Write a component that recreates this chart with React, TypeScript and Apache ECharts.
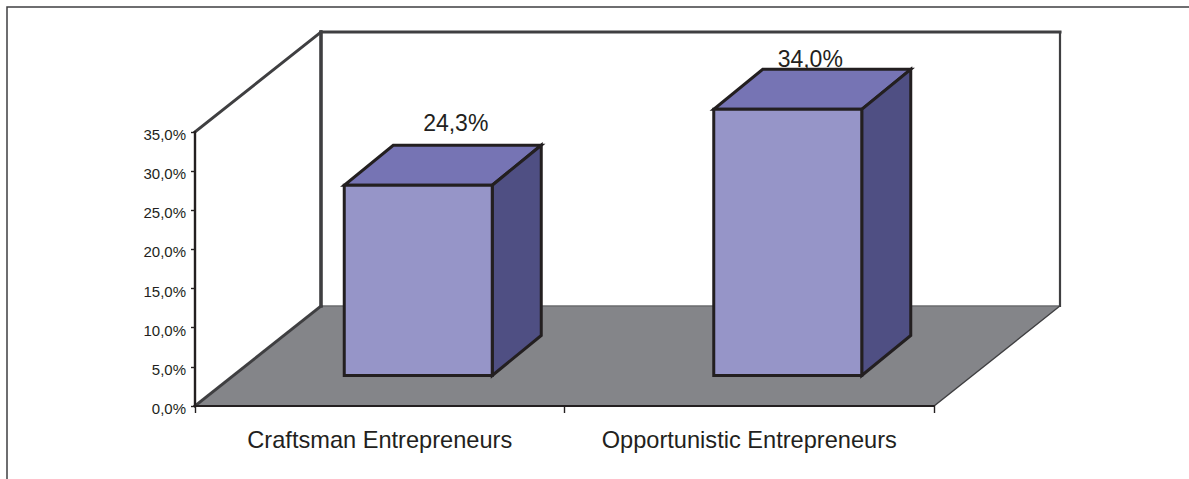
import React, { useEffect, useRef } from "react";
import * as echarts from "echarts";

const categories = ["Craftsman Entrepreneurs", "Opportunistic Entrepreneurs"];
const values = [24.3, 34.0];
const yTicks = { min: 0, max: 35, interval: 5 };

const fmt = (v: number) => v.toFixed(1).replace(".", ",") + "%";

const W = 1189;
const H = 479;
const DEPTH_X = 126;
const DEPTH_Y = 100;
const FLOOR_SHIFT_X = 38.5;
const FLOOR_SHIFT_Y = 30.5;
const BAR_W = 148;
const BAR_DX = 49;
const BAR_DY = 40;
const LABEL_OFFSET = [
  { x: 76, y: -22.5 },
  { x: 61, y: -10.5 },
];
const INK = "#231f20";
const WALL = "#3f3f41";

function poly(points: number[][], fill: string, stroke: string, lineWidth: number) {
  return {
    type: "polygon",
    shape: { points },
    style: { fill, stroke, lineWidth, lineJoin: "miter" },
  };
}
function line(a: number[], b: number[], stroke: string, lineWidth: number) {
  return {
    type: "line",
    shape: { x1: a[0], y1: a[1], x2: b[0], y2: b[1] },
    style: { stroke, lineWidth, lineCap: "square" },
  };
}

export default function App() {
  const ref = useRef<HTMLDivElement>(null);
  useEffect(() => {
    const chart = echarts.init(ref.current!, undefined, { renderer: "svg" });
    chart.setOption({
      animation: false,
      backgroundColor: "#ffffff",
      grid: { left: 195, top: 132, width: 739, height: 274, containLabel: false },
      graphic: [
        {
          type: "polyline",
          shape: { points: [[7, H], [7, 7], [W, 7]] },
          style: { fill: "none", stroke: WALL, lineWidth: 1.5 },
          z: 0,
        },
      ],
      xAxis: {
        type: "category",
        data: categories,
        z: 6,
        axisLine: { show: true, lineStyle: { color: INK, width: 2.2 } },
        axisTick: { show: true, alignWithLabel: false, length: 7, lineStyle: { color: INK, width: 1.4 } },
        axisLabel: {
          interval: 0,
          margin: 22,
          fontFamily: "Liberation Sans",
          fontSize: 23.6,
          color: INK,
        },
        splitLine: { show: false },
      },
      yAxis: {
        type: "value",
        ...yTicks,
        z: 6,
        axisLine: { show: true, lineStyle: { color: INK, width: 2.4 } },
        axisTick: { show: true, length: 4, lineStyle: { color: INK, width: 1.4 } },
        axisLabel: {
          margin: 9,
          fontFamily: "Liberation Sans",
          fontSize: 15,
          color: INK,
          verticalAlign: "top",
          lineHeight: 5,
          formatter: (v: number) => fmt(v),
        },
        splitLine: { show: false },
      },
      series: [
        {
          type: "custom",
          name: "scene",
          silent: true,
          z: 1,
          data: [[0]],
          renderItem: (p: any) => {
            const cs = p.coordSys;
            const x0 = cs.x;
            const x1 = cs.x + cs.width;
            const yb = cs.y + cs.height;
            const yt = cs.y;
            const bl = [x0 + DEPTH_X, yb - DEPTH_Y];
            const br = [x1 + DEPTH_X, yb - DEPTH_Y];
            const tl = [x0 + DEPTH_X, yt - DEPTH_Y];
            const tr = [x1 + DEPTH_X, yt - DEPTH_Y];
            return {
              type: "group",
              children: [
                poly([[x0, yb], [x1, yb], br, bl], "#848589", "none", 0),
                line(bl, br, "#6a6b6e", 1.5),
                line([x1, yb], br, WALL, 1.3),
                line([x0, yb], bl, WALL, 3),
                line([x0, yt], tl, WALL, 3),
                line(tl, tr, WALL, 3),
                line(tl, bl, WALL, 3.6),
                line(tr, br, WALL, 2.2),
              ],
            };
          },
        },
        {
          type: "custom",
          name: "share",
          z: 3,
          encode: { x: 0, y: 1 },
          data: values.map((v, i) => [i, v]),
          renderItem: (p: any, api: any) => {
            const i = api.value(0);
            const top = api.coord([i, api.value(1)]);
            const base = api.coord([i, 0]);
            const xl = top[0] + FLOOR_SHIFT_X - BAR_W / 2;
            const xr = xl + BAR_W;
            const yt = top[1] - FLOOR_SHIFT_Y;
            const yb = base[1] - FLOOR_SHIFT_Y;
            const off = LABEL_OFFSET[p.dataIndex];
            return {
              type: "group",
              children: [
                poly([[xl, yt], [xr, yt], [xr + BAR_DX, yt - BAR_DY], [xl + BAR_DX, yt - BAR_DY]], "#7674b4", INK, 3),
                poly([[xr, yt], [xr + BAR_DX, yt - BAR_DY], [xr + BAR_DX, yb - BAR_DY], [xr, yb]], "#4f4f83", INK, 3),
                poly([[xl, yt], [xr, yt], [xr, yb], [xl, yb]], "#9695c8", INK, 3),
                {
                  type: "text",
                  style: {
                    text: fmt(api.value(1)),
                    x: top[0] + off.x,
                    y: yt - BAR_DY + off.y,
                    fill: INK,
                    fontFamily: "Liberation Sans",
                    fontSize: 23,
                    align: "center",
                    verticalAlign: "middle",
                  },
                },
              ],
            };
          },
        },
      ],
    });
    return () => chart.dispose();
  }, []);
  return (
    <div
      ref={ref}
      style={{ position: "absolute", left: 0, top: 0, width: W, height: H, overflow: "hidden" }}
    />
  );
}
